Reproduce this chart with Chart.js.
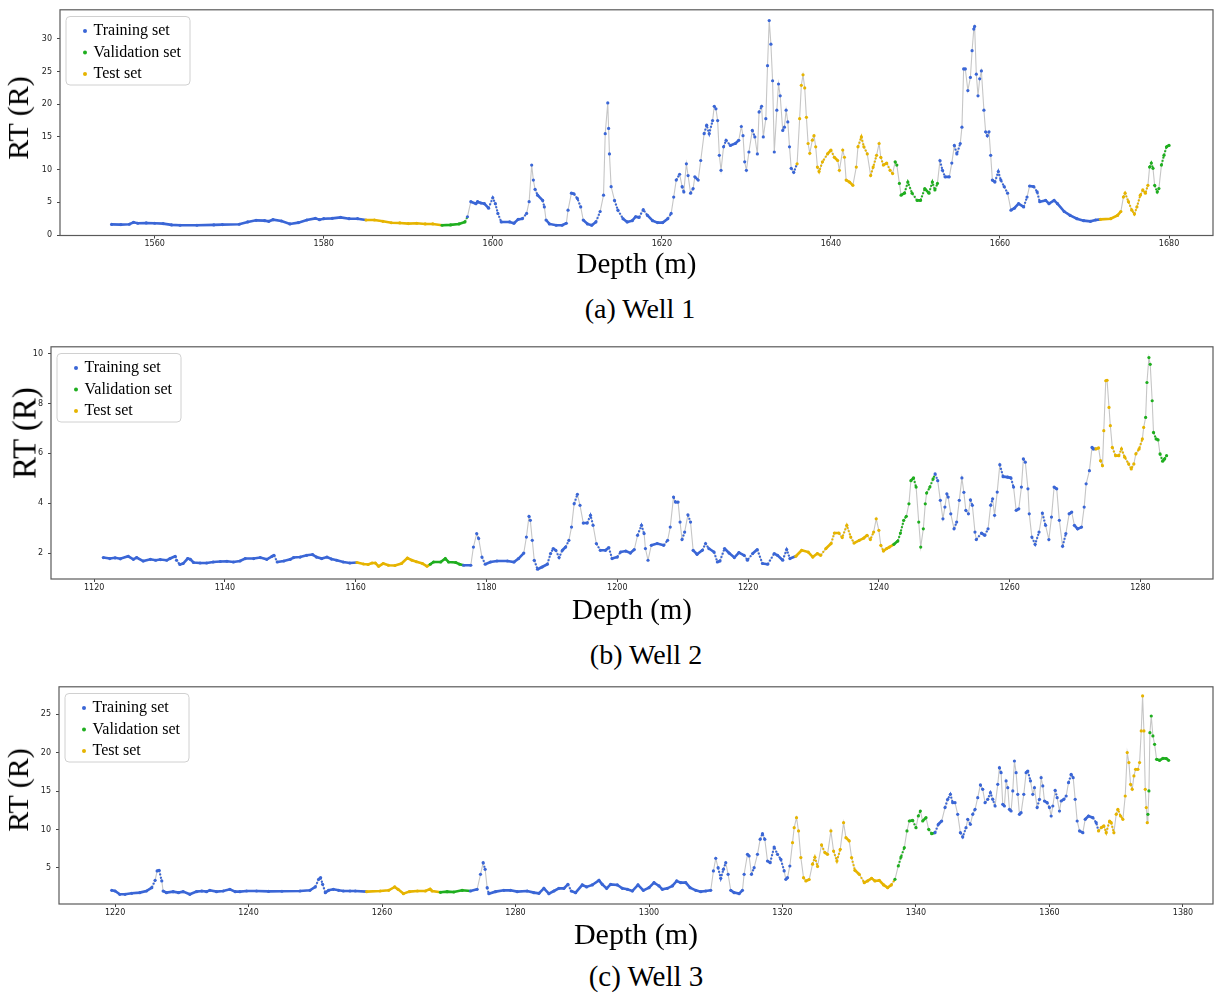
<!DOCTYPE html>
<html>
<head>
<meta charset="utf-8">
<title>RT vs depth - Wells 1 to 3</title>
<script src="https://cdn.jsdelivr.net/npm/chart.js@4.4.1/dist/chart.umd.min.js"></script>
<style>
  html, body { margin: 0; padding: 0; background: #fff; }
  body { width: 1215px; height: 993px; position: relative; overflow: hidden; font-family: 'Liberation Serif', serif; }
  canvas { position: absolute; left: 0; }
  .ytitle { position: absolute; white-space: nowrap; line-height: 1; color: #000;
            transform: translate(-50%, -50%) rotate(-90deg); }
  .caption { position: absolute; white-space: nowrap; line-height: 1; color: #000; transform: translateX(-50%); }
</style>
</head>
<body>
<canvas id="well1" width="1215" height="290" style="top:0px"></canvas>
<canvas id="well2" width="1215" height="297" style="top:337px"></canvas>
<canvas id="well3" width="1215" height="282" style="top:677px"></canvas>

<div class="ytitle" style="left:18px;top:118px;font-size:30px">RT (R)</div>
<div class="ytitle" style="left:24.5px;top:433px;font-size:33px">RT (R)</div>
<div class="ytitle" style="left:18px;top:790px;font-size:30px">RT (R)</div>

<div class="caption" style="left:640px;top:295px;font-size:28px">(a) Well 1</div>
<div class="caption" style="left:646px;top:641px;font-size:28px">(b) Well 2</div>
<div class="caption" style="left:646px;top:962px;font-size:29px">(c) Well 3</div>

<script>
// ---- data ----
const setNames = ['Training set', 'Validation set', 'Test set'];
const setKeys = ['train', 'val', 'test'];
// order of the sets along depth, between the split depths below
const setSequence = ['train', 'test', 'val', 'train', 'test', 'val', 'train', 'test', 'val'];

// Well 1
const well1Depth = [
  1554.9,1556,1557,1557.5,1558,1559,1560,1561,1562,1563,
  1565,1567,1568,1570,1571,1572,1573,1573.5,1574,1575,
  1576,1577,1578,1579,1579.5,1580,1581,1582,1583,1584,
  1585,1586,1587,1588,1589,1590,1591,1592,1592.9,1594,
  1595,1596,1596.7,1597,1597.4,1598,1598.2,1598.6,1599,1599.5,
  1600,1600.3,1600.6,1601,1602,1602.5,1603,1603.5,1604,1604.3,
  1604.6,1604.8,1605,1605.3,1605.9,1606.1,1606.3,1606.7,1607.5,1608.2,
  1608.7,1608.9,1609.3,1609.6,1610,1610.4,1610.7,1611.2,1611.7,1612.2,
  1612.7,1613.1,1613.3,1613.6,1613.7,1613.8,1614,1614.4,1614.8,1615.4,
  1615.9,1616.5,1616.9,1617.3,1617.8,1618.3,1618.9,1619.5,1620.1,1620.7,
  1621.1,1621.4,1621.7,1622.1,1622.4,1622.6,1622.9,1623.1,1623.4,1623.7,
  1623.9,1624.3,1624.6,1625,1625.3,1625.6,1626,1626.2,1626.4,1626.6,
  1626.8,1627,1627.3,1627.6,1628.1,1628.7,1629.1,1629.4,1629.6,1629.8,
  1630,1630.3,1630.7,1631,1631.3,1631.5,1631.8,1632,1632.3,1632.5,
  1632.7,1632.9,1633.1,1633.3,1633.6,1633.8,1634,1634.3,1634.5,1634.7,
  1634.9,1635.1,1635.3,1635.6,1636,1636.3,1636.5,1636.7,1636.9,1637.1,
  1637.3,1637.5,1637.8,1638,1638.2,1638.4,1638.6,1639,1639.6,1640,
  1640.4,1640.8,1641,1641.4,1641.6,1641.8,1642.2,1642.6,1643,1643.2,
  1643.6,1643.9,1644.3,1644.7,1645,1645.4,1645.7,1645.9,1646.2,1646.6,
  1647,1647.3,1647.6,1647.8,1648.1,1648.3,1648.7,1649.1,1649.6,1650.2,
  1650.6,1651.1,1651.6,1652,1652.3,1652.6,1652.9,1653.2,1653.5,1654,
  1654.3,1654.6,1654.9,1655.3,1655.5,1655.7,1655.9,1656.2,1656.5,1656.7,
  1656.9,1657,1657.2,1657.4,1657.6,1657.8,1658.1,1658.3,1658.5,1658.7,
  1658.9,1659.1,1659.4,1659.8,1660.1,1660.5,1660.9,1661.3,1661.7,1662.2,
  1662.8,1663.2,1663.5,1664,1664.4,1664.7,1665.4,1665.8,1666.4,1666.8,
  1667.6,1668.3,1669.1,1669.9,1670.7,1671.3,1671.9,1673.1,1673.9,1674.3,
  1674.6,1674.8,1675.2,1675.6,1675.9,1676.2,1676.6,1676.9,1677.2,1677.5,
  1677.7,1677.9,1678.1,1678.3,1678.6,1678.8,1679.1,1679.4,1679.7,1680
];
const well1RT = [
  1.63,1.6,1.65,1.95,1.8,1.85,1.8,1.75,1.55,1.5,
  1.5,1.55,1.6,1.65,2.0,2.25,2.2,2.1,2.35,2.15,
  1.7,1.9,2.3,2.55,2.35,2.5,2.55,2.7,2.5,2.5,
  2.3,2.3,2.1,1.88,1.85,1.75,1.8,1.7,1.7,1.5,
  1.55,1.7,2.0,2.8,5.1,4.8,5.1,4.9,4.8,4.1,
  5.7,4.8,3.3,2.0,2.0,1.8,2.4,2.5,3.3,5.1,
  10.7,8.4,7.0,6.1,5.3,4.3,2.3,1.7,1.5,1.5,
  1.8,3.8,6.4,6.3,5.6,4.3,2.3,1.7,1.5,2.0,
  3.6,6.1,15.5,20.2,16.3,12.4,7.4,5.3,3.8,2.5,
  2.0,2.2,2.8,2.7,3.9,3.0,2.2,1.9,1.9,2.5,
  3.3,5.8,8.4,9.3,7.4,6.6,10.9,9.1,6.4,7.1,
  8.9,8.4,11.4,15.5,16.8,15.5,17.5,19.7,19.3,17.5,
  12.2,9.9,13.5,14.5,13.7,14.0,14.5,16.6,15.2,11.2,
  9.9,12.7,16.0,15.0,12.4,18.8,19.7,15.0,17.8,25.9,
  32.8,29.2,23.6,12.7,19.1,23.1,21.3,16.0,16.5,19.1,
  17.3,13.5,10.2,9.6,10.9,17.8,22.9,24.5,22.5,18.0,
  14.0,12.5,14.5,15.2,13.5,10.4,9.7,11.2,12.4,13.0,
  11.9,11.4,9.9,13.0,11.9,8.4,8.1,7.6,10.4,13.5,
  15.0,13.5,12.4,9.1,10.4,12.2,14.0,11.9,10.7,11.0,
  9.9,9.4,11.2,10.7,7.9,6.1,6.4,8.1,6.4,5.3,
  5.3,7.1,6.4,8.1,6.9,7.9,11.4,9.9,8.9,8.9,
  11.0,13.7,12.4,14.0,16.5,25.4,25.4,22.1,24.1,28.2,
  31.5,31.9,24.6,21.3,23.9,25.1,19.1,15.8,15.2,15.8,
  12.2,8.4,8.1,9.7,8.4,7.4,6.4,3.8,4.1,4.8,
  4.3,5.8,7.5,7.4,6.6,5.1,5.3,4.8,5.3,4.8,
  3.6,3.0,2.5,2.2,2.1,2.3,2.4,2.5,3.0,3.6,
  5.8,6.4,5.1,3.8,3.2,4.3,6.1,6.9,6.4,7.6,
  10.4,11.0,10.2,7.6,6.6,7.1,10.7,12.2,13.5,13.7
];
const well1Splits = [1584.1, 1592.95, 1596.8, 1635.7, 1647.45, 1652.75, 1671.35, 1677.6];

// Well 2
const well2Depth = [
  1121.4,1122.4,1123.2,1124,1125.2,1126,1126.5,1127.5,1128.6,1129.4,
  1130.1,1131.1,1131.6,1132.4,1132.6,1133.1,1133.6,1134.3,1134.7,1135.2,
  1136.2,1137.2,1138.2,1139.3,1140.3,1141.3,1142.3,1143.1,1144.4,1145.4,
  1146.4,1147.2,1147.5,1148,1149,1150,1150.5,1151.5,1152.5,1153.4,
  1154,1154.8,1155.6,1156.3,1157.1,1158.1,1159.1,1160.2,1161.2,1161.9,
  1162.5,1163,1163.5,1164.2,1165,1166,1167,1167.9,1168.6,1169.3,
  1170.2,1170.9,1171.4,1171.9,1173,1173.7,1174.2,1175.3,1175.9,1176.5,
  1177.6,1178,1178.5,1178.8,1179.3,1179.8,1180.6,1181.6,1183.2,1184.2,
  1184.9,1185.7,1186.1,1186.5,1186.7,1187,1187.3,1187.8,1188.5,1189.3,
  1189.8,1190.2,1190.6,1191.1,1191.6,1192.1,1192.6,1193,1193.4,1193.9,
  1194.3,1194.8,1195.4,1195.9,1196.3,1196.8,1197.4,1198.2,1198.7,1199.2,
  1200,1200.5,1201.3,1202,1202.6,1203.1,1203.7,1204.1,1204.3,1204.7,
  1205.2,1206.1,1207.1,1207.7,1208.1,1208.6,1208.9,1209.3,1209.6,1209.9,
  1210.3,1210.8,1211.2,1211.6,1212.2,1213,1213.5,1214,1214.8,1215.3,
  1215.7,1216.4,1217.1,1217.9,1218.6,1219.4,1219.9,1220.7,1221.4,1222.2,
  1223,1224,1224.5,1225.3,1225.9,1226.4,1227.3,1228.2,1229.2,1229.9,
  1230.6,1231.1,1231.9,1232.7,1233.2,1233.9,1234.4,1235.1,1235.7,1236.2,
  1237,1237.7,1238.2,1238.7,1239.2,1239.6,1240,1240.3,1240.7,1241.2,
  1241.6,1242.3,1242.9,1243.3,1243.8,1244.2,1244.6,1244.9,1245.3,1245.7,
  1246.1,1246.4,1246.8,1247.1,1247.3,1247.8,1248.3,1248.6,1249,1249.4,
  1249.8,1250.1,1250.4,1250.6,1251,1251.5,1251.9,1252.3,1252.7,1253,
  1253.3,1253.7,1254,1254.3,1254.7,1254.9,1255.7,1256.2,1256.7,1257.1,
  1257.4,1257.7,1258.1,1258.5,1259,1259.7,1260.2,1260.6,1261,1261.4,
  1261.8,1262.1,1262.4,1262.8,1263,1263.4,1263.9,1264.5,1265,1265.5,
  1266,1266.4,1266.8,1267.2,1267.6,1268.1,1268.6,1269.1,1269.5,1269.9,
  1270.4,1271,1271.4,1271.7,1272.2,1272.6,1272.8,1273.2,1273.6,1273.9,
  1274.2,1274.4,1274.7,1274.9,1275.2,1275.4,1275.7,1276.2,1276.7,1277.1,
  1277.6,1278.2,1278.6,1279,1279.3,1279.8,1280.3,1280.5,1280.8,1281,
  1281.3,1281.5,1281.8,1282,1282.4,1282.7,1283,1283.4,1283.7,1284
];
const well2RT = [
  1.83,1.79,1.82,1.78,1.88,1.76,1.83,1.69,1.76,1.72,
  1.75,1.72,1.79,1.88,1.72,1.55,1.59,1.79,1.76,1.63,
  1.61,1.61,1.65,1.67,1.68,1.65,1.69,1.79,1.79,1.83,
  1.76,1.88,1.92,1.65,1.69,1.76,1.83,1.85,1.92,1.95,
  1.85,1.79,1.85,1.77,1.72,1.65,1.61,1.63,1.57,1.55,
  1.61,1.61,1.48,1.59,1.52,1.51,1.59,1.81,1.72,1.66,
  1.59,1.48,1.56,1.65,1.65,1.79,1.65,1.63,1.56,1.52,
  1.52,2.25,2.79,2.59,1.85,1.56,1.65,1.69,1.69,1.65,
  1.79,2.01,2.65,3.48,3.32,2.52,1.72,1.36,1.45,1.56,
  1.99,2.19,2.12,1.83,2.12,2.25,2.52,3.05,3.98,4.36,
  3.92,3.21,3.21,3.52,3.12,2.39,2.12,2.12,2.23,1.79,
  1.85,2.05,2.09,2.01,2.15,2.72,3.12,2.79,2.19,1.72,
  2.32,2.39,2.32,2.52,3.05,4.25,4.05,4.05,3.25,2.55,
  2.85,3.54,3.25,2.12,1.96,2.12,2.39,2.19,2.05,1.65,
  1.69,2.19,2.01,1.83,2.03,1.92,1.72,1.99,2.15,1.59,
  1.56,1.99,1.92,1.72,2.15,1.79,1.88,2.12,2.05,1.85,
  1.99,1.92,2.19,2.39,2.81,2.81,2.63,3.12,2.65,2.41,
  2.52,2.61,2.72,2.55,2.85,3.38,2.92,2.32,2.09,2.19,
  2.25,2.36,2.49,2.81,3.32,3.48,3.98,4.91,5.02,4.65,
  3.25,2.25,2.98,3.98,4.41,4.65,4.98,5.18,4.91,4.12,
  3.38,3.85,4.38,4.25,3.58,2.98,3.25,4.12,5.02,4.44,
  3.72,3.58,4.14,3.92,2.85,2.55,2.81,2.72,2.98,3.92,
  4.18,3.52,4.45,5.55,5.07,5.05,5.02,4.65,3.72,3.78,
  4.65,5.78,5.65,4.58,3.58,2.65,2.36,2.85,3.61,3.12,
  2.55,3.45,4.65,4.58,3.32,2.28,2.79,3.58,3.65,3.12,
  2.98,3.05,3.85,4.78,5.31,6.24,6.18,6.18,6.22,5.71,
  5.51,6.91,8.91,8.93,7.84,7.11,6.24,5.91,5.91,6.18,
  5.85,5.58,5.38,5.58,5.98,6.18,6.58,7.04,7.44,8.84,
  9.84,9.57,8.11,6.84,6.58,6.54,5.98,5.69,5.78,5.91
];
const well2Splits = [1159.6, 1171.1, 1176.1, 1226.6, 1241.9, 1248.45, 1272.95, 1280.65];

// Well 3
const well3Depth = [
  1219.5,1220,1220.7,1221.5,1222.5,1223.7,1224.7,1225.5,1226,1226.3,
  1226.6,1227,1227.2,1227.7,1228.7,1229.5,1230.2,1231.2,1232.2,1233,
  1233.7,1234.2,1235.2,1236.2,1237.2,1238,1238.7,1239.7,1241.2,1243,
  1245,1247.7,1249.2,1250,1250.5,1250.8,1251.1,1251.5,1252,1252.7,
  1253.5,1254.2,1255.2,1256,1257.7,1259.7,1261,1261.9,1262.4,1263.2,
  1264.1,1265.3,1266.5,1267.2,1267.5,1268.75,1269.75,1270.75,1272,1273.25,
  1274.25,1274.75,1275.15,1275.45,1275.75,1276,1277,1278.25,1279.25,1280.25,
  1281.75,1282.75,1283.5,1284.25,1285,1285.75,1286.5,1287.25,1287.85,1288.35,
  1289,1290,1290.65,1291.5,1292.5,1293,1293.65,1294.25,1295.25,1296,
  1296.75,1297.5,1298.35,1299.15,1300,1300.75,1301.5,1302,1302.75,1303.5,
  1304.15,1304.75,1305.5,1306.15,1307,1307.75,1308.5,1309.25,1309.65,1310,
  1310.35,1310.75,1311.15,1311.5,1311.85,1312.25,1312.75,1313.5,1314,1314.25,
  1314.75,1315,1315.35,1315.75,1316.25,1316.65,1317,1317.35,1317.75,1318.15,
  1318.75,1319.25,1319.75,1320.25,1320.5,1320.75,1321.1,1321.5,1321.75,1322.1,
  1322.4,1322.75,1323.15,1323.5,1324,1324.5,1324.85,1325.25,1325.85,1326.35,
  1326.75,1327.25,1327.65,1328.15,1328.65,1329.15,1329.5,1330,1330.35,1330.85,
  1331.5,1332.25,1332.75,1333.35,1333.85,1334.5,1335.15,1335.75,1336.3,1336.85,
  1337.35,1337.75,1338.25,1338.65,1339,1339.5,1340,1340.35,1340.65,1341,
  1341.5,1341.9,1342.35,1342.85,1343.35,1343.85,1344.35,1344.75,1345.15,1345.5,
  1345.85,1346.25,1346.65,1347,1347.5,1347.75,1348.15,1348.5,1348.85,1349.25,
  1349.65,1350,1350.35,1350.75,1351.15,1351.5,1351.85,1352.25,1352.5,1352.75,
  1353,1353.25,1353.5,1353.75,1354,1354.25,1354.5,1354.75,1355,1355.25,
  1355.5,1355.75,1356.15,1356.5,1356.75,1357.15,1357.5,1357.75,1358.15,1358.5,
  1358.75,1359,1359.25,1359.65,1360,1360.25,1360.5,1360.85,1361.15,1361.5,
  1361.75,1362.15,1362.5,1362.85,1363.25,1363.55,1363.85,1364.15,1364.5,1365,
  1365.35,1365.85,1366.5,1367,1367.35,1367.75,1368.15,1368.5,1369,1369.25,
  1369.65,1370,1370.25,1370.65,1371,1371.35,1371.65,1371.9,1372.15,1372.4,
  1372.65,1372.9,1373.25,1373.5,1373.75,1373.95,1374.15,1374.35,1374.5,1374.65,
  1374.75,1374.9,1375.05,1375.25,1375.5,1375.75,1376.05,1376.5,1377,1377.5,
  1377.85
];
const well3RT = [
  2.09,2.0,1.57,1.57,1.7,1.79,2.0,2.44,3.39,4.61,
  4.7,3.31,2.0,1.79,1.92,1.79,1.92,1.57,1.92,2.0,
  1.92,2.09,1.92,2.0,2.22,1.92,1.92,2.0,2.0,1.95,
  1.97,2.0,2.09,2.53,3.52,3.74,2.87,1.79,2.09,2.22,
  2.09,2.0,2.0,2.0,1.92,2.0,2.09,2.53,2.22,1.66,
  1.92,2.0,2.0,2.26,2.0,1.83,1.92,1.87,2.09,2.0,
  2.22,4.18,5.69,4.83,2.44,1.66,1.92,2.09,2.09,1.92,
  2.0,1.79,1.7,2.35,1.66,2.0,2.35,2.35,2.87,2.0,
  1.79,2.79,2.53,2.79,3.39,2.87,2.35,2.87,2.79,2.35,
  2.22,2.0,2.79,2.09,2.44,3.09,2.66,2.22,2.35,2.66,
  3.31,3.09,3.09,2.44,2.09,1.92,2.0,2.09,4.61,6.26,
  5.04,3.65,4.83,5.69,4.18,2.09,1.79,1.66,2.09,4.18,
  6.78,6.56,4.18,5.04,6.78,8.73,9.47,8.73,5.91,5.69,
  7.73,6.78,6.13,4.61,3.52,3.74,5.26,8.3,10.25,11.55,
  9.82,6.35,3.74,3.31,3.5,5.5,6.4,5.2,8.0,7.0,
  6.78,9.82,7.21,5.91,7.43,10.9,8.95,8.52,6.35,4.7,
  4.18,3.09,3.31,3.65,3.31,3.39,2.79,2.44,2.79,3.52,
  5.26,6.43,7.65,9.82,11.12,11.2,10.25,11.77,12.42,11.12,
  11.55,10.03,9.47,9.6,10.69,11.12,12.86,13.94,14.59,13.5,
  13.5,11.99,9.6,9.04,10.25,11.34,10.69,11.99,12.64,14.16,
  15.81,15.24,13.5,13.94,14.81,13.94,13.07,15.89,18.06,17.41,
  13.29,13.07,16.33,15.46,12.64,12.42,15.03,18.93,17.41,14.59,
  11.99,12.2,14.59,17.41,17.63,16.33,14.59,15.46,12.86,13.94,
  16.76,15.68,13.72,13.5,12.86,11.77,13.07,15.11,14.16,12.42,
  13.72,13.94,14.37,16.11,17.2,16.76,13.94,11.12,9.82,9.6,
  11.34,11.77,11.55,10.9,9.82,10.25,10.47,9.6,11.12,10.9,
  9.6,11.99,12.64,11.77,11.34,14.37,20.02,18.72,15.89,15.24,
  16.98,17.85,17.85,18.72,22.84,27.4,22.84,15.24,12.86,10.9,
  11.99,15.03,22.62,24.79,22.19,21.1,19.15,19.02,19.28,19.25,
  19.02
];
const well3Splits = [1256.1, 1267.55, 1272.05, 1321.2, 1336.4, 1342.45, 1367.1, 1374.7];

// ---- styling ----
const setColors = { train: '#3a66d6', val: '#1fae1f', test: '#e6b400' };
const lineGray = '#c6c6c6';

function setOf(depth, splits) {
  let k = 0;
  while (k < splits.length && depth > splits[k]) k++;
  return setSequence[k];
}

// axes frame + matplotlib-like legend box inside the plot
const frameAndLegend = {
  id: 'frameAndLegend',
  afterDraw(chart) {
    const { ctx, chartArea: a } = chart;
    ctx.save();
    ctx.strokeStyle = '#5a5a5a';
    ctx.lineWidth = 1.2;
    ctx.strokeRect(a.left, a.top, a.right - a.left, a.bottom - a.top);

    const bx = a.left + 6, by = a.top + 6.7, bw = 124, bh = 68.5;
    ctx.beginPath();
    ctx.roundRect(bx, by, bw, bh, 4);
    ctx.fillStyle = 'rgba(255,255,255,0.85)';
    ctx.fill();
    ctx.strokeStyle = '#d0d0d0';
    ctx.lineWidth = 1;
    ctx.stroke();
    ctx.font = '16px "Liberation Serif"';
    ctx.textBaseline = 'middle';
    setNames.forEach((name, i) => {
      const y = by + 14.5 + i * 21.5;
      ctx.fillStyle = setColors[setKeys[i]];
      ctx.beginPath();
      ctx.arc(bx + 19, y, 2, 0, Math.PI * 2);
      ctx.fill();
      ctx.fillStyle = '#000';
      ctx.fillText(name, bx + 27.5, y);
    });
    ctx.restore();
  }
};

function drawWell(canvasId, depth, rt, splits, p) {
  const sets = depth.map(d => setOf(d, splits));
  const pts = depth.map((d, i) => ({ x: d, y: rt[i] }));
  // pixel slope of a segment: the original has dots every ~0.1 m, so flat parts
  // read as a solid coloured band, medium slopes as a dotted coloured line,
  // and steep parts show the grey connecting line between dots
  const slope = c => Math.abs(c.p1.y - c.p0.y) / Math.max(0.01, Math.abs(c.p1.x - c.p0.x));
  const tickFont = { family: 'DejaVu Sans', size: 8 };

  new Chart(document.getElementById(canvasId), {
    type: 'line',
    data: {
      datasets: [{
        data: pts,
        order: 0,
        borderColor: 'rgba(0,0,0,0)',
        borderWidth: 2.4,
        tension: 0,
        pointRadius: 1.6,
        pointBorderWidth: 0,
        pointBackgroundColor: sets.map(s => setColors[s]),
        segment: {
          borderColor: c => slope(c) < 4 ? setColors[sets[c.p0DataIndex]] : 'rgba(0,0,0,0)',
          borderWidth: c => slope(c) < 1.2 ? 2.6 : 2.1,
          borderDash: c => slope(c) < 1.2 ? [] : [1.8, 1.6]
        }
      }, {
        data: pts,
        order: 1,
        borderColor: lineGray,
        borderWidth: 1.1,
        tension: 0,
        pointRadius: 0
      }]
    },
    options: {
      responsive: false,
      animation: false,
      events: [],
      layout: { autoPadding: false, padding: { top: p.padTop, right: 2, left: 0, bottom: 0 } },
      plugins: { legend: { display: false }, tooltip: { enabled: false } },
      scales: {
        x: {
          type: 'linear',
          min: p.xMin, max: p.xMax,
          afterFit: s => { s.height = p.xHeight; },
          border: { display: false },
          grid: { drawOnChartArea: false, drawTicks: true, tickLength: 3, tickColor: '#444' },
          ticks: {
            stepSize: 20, includeBounds: false, autoSkip: false, maxRotation: 0,
            padding: 1, color: '#222', font: tickFont,
            callback: v => String(Math.round(v))
          },
          title: {
            display: true, text: 'Depth (m)', color: '#000',
            font: { family: 'Liberation Serif', size: p.titleSize, lineHeight: 1 },
            padding: { top: 0, bottom: p.titlePad }
          }
        },
        y: {
          min: p.yMin, max: p.yMax,
          afterFit: s => { s.width = p.yWidth; },
          border: { display: false },
          grid: { drawOnChartArea: false, drawTicks: true, tickLength: 3, tickColor: '#444' },
          ticks: {
            stepSize: p.yStep, includeBounds: false, padding: 5,
            color: '#222', font: tickFont,
            callback: v => String(Math.round(v))
          }
        }
      }
    },
    plugins: [frameAndLegend]
  });
}

drawWell('well1', well1Depth, well1RT, well1Splits,
  { padTop: 9, xHeight: 54.5, yWidth: 60, xMin: 1548.8, xMax: 1685.2, yMin: -0.07, yMax: 34.45, yStep: 5, titleSize: 29, titlePad: 10 });
drawWell('well2', well2Depth, well2RT, well2Splits,
  { padTop: 9, xHeight: 55, yWidth: 51, xMin: 1113.4, xMax: 1291.1, yMin: 0.97, yMax: 10.27, yStep: 2, titleSize: 29, titlePad: 8.3 });
drawWell('well3', well3Depth, well3RT, well3Splits,
  { padTop: 8.7, xHeight: 55, yWidth: 59, xMin: 1211.6, xMax: 1384.5, yMin: 0.31, yMax: 28.59, yStep: 5, titleSize: 30, titlePad: 7.8 });
</script>
</body>
</html>
